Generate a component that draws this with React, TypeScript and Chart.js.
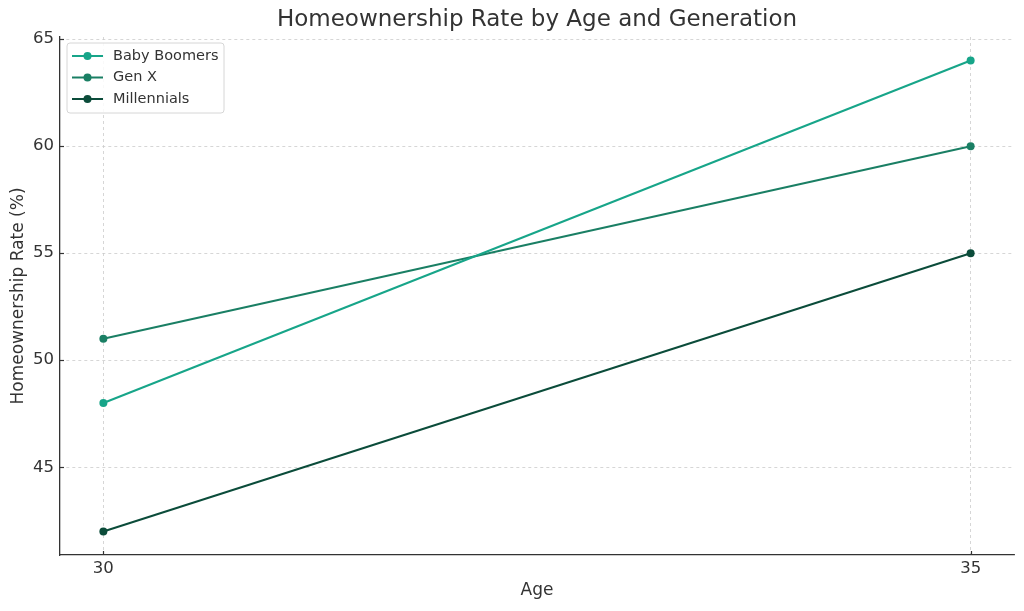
import React, { useEffect, useRef } from "react";
import { Chart, registerables } from "chart.js";

Chart.register(...registerables);

const ages = [30, 35];
const babyBoomers = [48, 64];
const genX = [51, 60];
const millennials = [42, 55];
const seriesNames = ["Baby Boomers", "Gen X", "Millennials"];
const seriesColors = ["#17a589", "#1a7f64", "#0b4c3a"];
const yTicks = [45, 50, 55, 60, 65];
const chartTitle = "Homeownership Rate by Age and Generation";
const xTitle = "Age";
const yTitle = "Homeownership Rate (%)";

const FONT = "'DejaVu Sans', sans-serif";

const overlayPlugin = {
  id: "overlay",
  afterDraw(chart: any) {
    const ctx = chart.ctx;
    const area = chart.chartArea;
    ctx.save();
    // inward tick marks
    ctx.strokeStyle = "#333333";
    ctx.lineWidth = 1.2;
    const xs = chart.scales.x;
    const ys = chart.scales.y;
    ages.forEach((a) => {
      const px = Math.round(xs.getPixelForValue(a)) + 0.5;
      ctx.beginPath();
      ctx.moveTo(px, area.bottom);
      ctx.lineTo(px, area.bottom - 4);
      ctx.stroke();
    });
    yTicks.forEach((t) => {
      const py = Math.round(ys.getPixelForValue(t)) + 0.5;
      ctx.beginPath();
      ctx.moveTo(area.left, py);
      ctx.lineTo(area.left + 4, py);
      ctx.stroke();
    });
    // title
    ctx.fillStyle = "#333333";
    ctx.font = `23px ${FONT}`;
    ctx.textAlign = "center";
    ctx.textBaseline = "middle";
    ctx.fillText(chartTitle, (area.left + area.right) / 2, 20);
    // legend
    const bx = area.left + 7;
    const by = area.top + 6;
    const bw = 157;
    const bh = 70;
    ctx.fillStyle = "rgba(255,255,255,0.85)";
    ctx.strokeStyle = "#d6d6d6";
    ctx.lineWidth = 1;
    ctx.beginPath();
    const r = 3;
    ctx.moveTo(bx + r, by);
    ctx.arcTo(bx + bw, by, bx + bw, by + bh, r);
    ctx.arcTo(bx + bw, by + bh, bx, by + bh, r);
    ctx.arcTo(bx, by + bh, bx, by, r);
    ctx.arcTo(bx, by, bx + bw, by, r);
    ctx.closePath();
    ctx.fill();
    ctx.stroke();
    chart.data.datasets.forEach((ds: any, i: number) => {
      const y = by + 13 + i * 21.5;
      ctx.strokeStyle = ds.borderColor;
      ctx.lineWidth = 2;
      ctx.beginPath();
      ctx.moveTo(bx + 5, y);
      ctx.lineTo(bx + 36, y);
      ctx.stroke();
      ctx.fillStyle = ds.borderColor;
      ctx.beginPath();
      ctx.arc(bx + 20.5, y, 4, 0, Math.PI * 2);
      ctx.fill();
      ctx.fillStyle = "#333333";
      ctx.font = `14.5px ${FONT}`;
      ctx.textAlign = "left";
      ctx.textBaseline = "middle";
      ctx.fillText(ds.label, bx + 46, y);
    });
    ctx.restore();
  },
};

export default function App() {
  const ref = useRef<HTMLCanvasElement>(null);
  useEffect(() => {
    document.body.style.margin = "0";
    const values = [babyBoomers, genX, millennials];
    const chart = new Chart(ref.current!, {
      type: "line",
      data: {
        datasets: values.map((v, i) => ({
          label: seriesNames[i],
          data: ages.map((a, j) => ({ x: a, y: v[j] })),
          borderColor: seriesColors[i],
          backgroundColor: seriesColors[i],
          borderWidth: 2,
          pointRadius: 4,
          pointHoverRadius: 4,
          pointBorderWidth: 0,
          tension: 0,
        })),
      },
      options: {
        responsive: false,
        animation: false,
        layout: { padding: { top: 37, right: 10, left: 0, bottom: 0 } },
        plugins: {
          legend: { display: false },
          title: { display: false },
          tooltip: { enabled: false },
        },
        scales: {
          x: {
            type: "linear",
            min: 29.75,
            max: 35.25,
            afterBuildTicks: (scale: any) => {
              scale.ticks = ages.map((a) => ({ value: a }));
            },
            afterFit: (scale: any) => {
              scale.height = 56;
            },
            grid: {
              color: "#cccccc",
              drawTicks: false,
              lineWidth: 0.8,
            },
            border: { display: true, color: "#333333", width: 1.3, dash: [3, 3] },
            ticks: {
              color: "#333333",
              font: { family: FONT, size: 16.5 },
              padding: 4,
              maxRotation: 0,
              autoSkip: false,
            },
            title: {
              display: true,
              text: xTitle,
              color: "#333333",
              font: { family: FONT, size: 17 },
              padding: { top: 0, bottom: 10 },
            },
          },
          y: {
            type: "linear",
            min: 40.9,
            max: 65.1,
            afterBuildTicks: (scale: any) => {
              scale.ticks = yTicks.map((t) => ({ value: t }));
            },
            afterFit: (scale: any) => {
              scale.width = 60;
            },
            grid: {
              color: "#cccccc",
              drawTicks: false,
              lineWidth: 0.8,
            },
            border: { display: true, color: "#333333", width: 1.3, dash: [3, 3] },
            ticks: {
              color: "#333333",
              font: { family: FONT, size: 16.5 },
              padding: 6,
            },
            title: {
              display: true,
              text: yTitle,
              color: "#333333",
              font: { family: FONT, size: 17 },
              padding: { top: 8, bottom: 8 },
            },
          },
        },
      },
      plugins: [overlayPlugin],
    } as any);
    return () => chart.destroy();
  }, []);
  return <canvas ref={ref} width={1024} height={611} />;
}
